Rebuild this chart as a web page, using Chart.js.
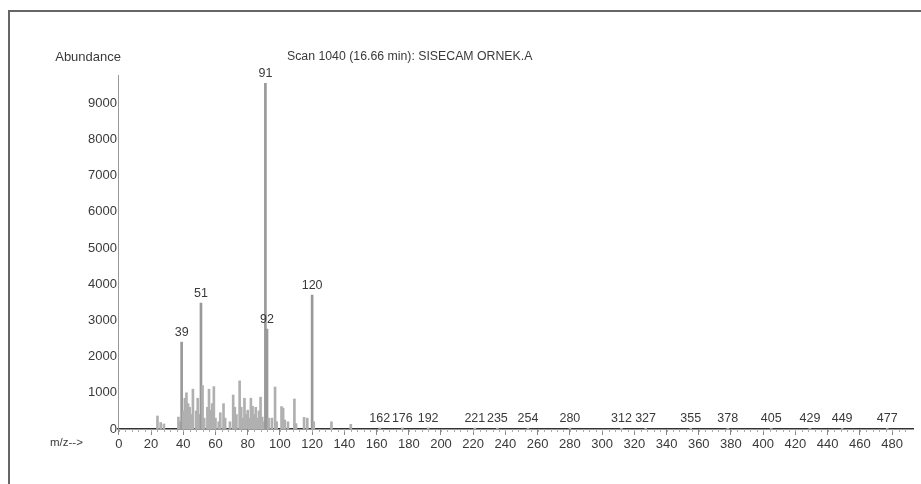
<!DOCTYPE html>
<html><head><meta charset="utf-8">
<script src="https://cdn.jsdelivr.net/npm/chart.js@4/dist/chart.umd.min.js"></script>
<style>html,body{margin:0;padding:0;background:#fff;overflow:hidden}#wrap{position:relative;width:921px;height:484px}</style>
</head><body><div id="wrap"><canvas id="c" width="921" height="484"></canvas></div>
<script>
// ---- data ----
const mz = [24,26,28,37,38,39,40,41,42,43,44,45,46,48,49,50,51,52,53,55,56,57,58,59,60,62,63,65,66,69,71,72,73,75,76,77,78,79,80,81,82,83,84,85,86,87,88,89,90,91,92,93,95,97,98,101,102,103,105,109,110,115,117,120,121,132,144,
  162,176,192,221,235,254,280,312,327,355,378,405,429,449,477];
const abundance = [360,180,140,330,200,2400,500,850,1000,700,600,400,1100,500,850,400,3480,1200,300,600,1100,520,700,1170,300,200,450,700,300,200,940,600,400,1330,600,300,850,400,520,300,850,630,400,600,300,500,880,330,200,9550,2760,300,300,1160,200,620,580,250,200,830,150,320,300,3700,200,200,130,
  30,30,30,25,25,25,25,20,20,20,20,15,15,15,15];
const labeledPeaks = [39,51,91,92,120,162,176,192,221,235,254,280,312,327,355,378,405,429,449,477];
const xTickValues = [0,20,40,60,80,100,120,140,160,180,200,220,240,260,280,300,320,340,360,380,400,420,440,460,480];
const yTickValues = [0,1000,2000,3000,4000,5000,6000,7000,8000,9000];
const titleText = 'Scan 1040 (16.66 min): SISECAM ORNEK.A';
const yTitleText = 'Abundance';
const xTitleText = 'm/z-->';

const FONT = '"Liberation Sans", Arial, sans-serif';
const TXT = '#3a3a3a';

const decorPlugin = {
  id: 'decor',
  beforeDraw(chart) {
    const ctx = chart.ctx;
    ctx.save();
    ctx.fillStyle = '#fff';
    ctx.fillRect(0, 0, chart.width, chart.height);
    ctx.strokeStyle = '#666';
    ctx.lineWidth = 2;
    ctx.strokeRect(9, 11, 1000, 1000);
    ctx.restore();
  },
  afterDraw(chart) {
    const ctx = chart.ctx, xs = chart.scales.x, ys = chart.scales.y;
    ctx.save();
    // minor ticks on x axis
    ctx.strokeStyle = '#aaa';
    ctx.lineWidth = 1;
    const base = ys.getPixelForValue(0);
    for (let v = 0; v <= 490; v += 4) {
      const px = Math.round(xs.getPixelForValue(v)) + 0.5;
      ctx.beginPath(); ctx.moveTo(px, base); ctx.lineTo(px, base + 3); ctx.stroke();
    }
    // peak labels
    ctx.fillStyle = TXT;
    ctx.font = '12.5px ' + FONT;
    ctx.textAlign = 'center';
    ctx.textBaseline = 'alphabetic';
    labeledPeaks.forEach(m => {
      const i = mz.indexOf(m);
      if (i < 0) return;
      const px = xs.getPixelForValue(m);
      const py = ys.getPixelForValue(abundance[i]);
      ctx.fillText(String(m), px, py - 6);
    });
    // titles
    ctx.textBaseline = 'middle';
    ctx.textAlign = 'left';
    ctx.font = '12.3px ' + FONT;
    ctx.fillText(titleText, 287, 57);
    ctx.textAlign = 'right';
    ctx.font = '13px ' + FONT;
    ctx.fillText(yTitleText, 121, 57);
    ctx.textAlign = 'left';
    ctx.font = '11.5px ' + FONT;
    ctx.fillText(xTitleText, 50, 443);
    ctx.restore();
  }
};

new Chart(document.getElementById('c'), {
  type: 'bar',
  data: {
    datasets: [{
      data: mz.map((m, i) => ({ x: m, y: abundance[i] })),
      backgroundColor: c => (c.raw && c.raw.y > 2000) ? '#999' : '#b0b0b0',
      barThickness: 2,
      borderWidth: 0
    }]
  },
  options: {
    responsive: false,
    devicePixelRatio: 1,
    animation: false,
    layout: { padding: { left: 0, right: 8, top: 75, bottom: 0 } },
    plugins: { legend: { display: false }, tooltip: { enabled: false } },
    scales: {
      x: {
        type: 'linear', min: -0.5, max: 493, offset: false,
        afterBuildTicks: s => { s.ticks = xTickValues.map(v => ({ value: v })); },
        afterFit: s => { s.height = 55; },
        grid: { offset: false, drawOnChartArea: false, drawTicks: true, tickLength: 6, color: '#888' },
        border: { display: true, color: '#333', width: 1.5 },
        ticks: { font: { size: 13, family: FONT }, color: TXT, padding: 2, maxRotation: 0, autoSkip: false, callback: v => String(v) }
      },
      y: {
        min: 0, max: 9780,
        afterBuildTicks: s => { s.ticks = yTickValues.map(v => ({ value: v })); },
        afterFit: s => { s.width = 118; },
        grid: { display: false, drawTicks: false },
        border: { display: true, color: '#999', width: 1 },
        ticks: { font: { size: 13, family: FONT }, color: TXT, padding: 1, callback: v => String(v) }
      }
    }
  },
  plugins: [decorPlugin]
});
</script>
</body></html>
